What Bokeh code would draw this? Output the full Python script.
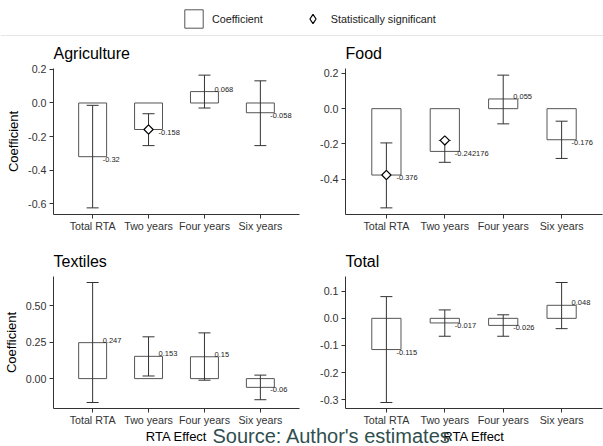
import numpy as np
from bokeh.plotting import figure
from bokeh.models import (ColumnDataSource, FactorRange, Range1d, FixedTicker, Whisker,
                          TeeHead, Legend, LegendItem, Span, Label)
from bokeh.layouts import column, row
from bokeh.embed import file_html
from bokeh.resources import INLINE
from bokeh.core.properties import value

FONT = "Liberation Sans"

# ---------------- data ----------------
categories = ["Total RTA", "Two years", "Four years", "Six years"]

agri_coef = [-0.32, -0.158, 0.068, -0.058]
agri_lower = [-0.625, -0.254, -0.030, -0.254]
agri_upper = [-0.014, -0.064, 0.166, 0.132]
agri_sig_cats = ["Two years"]
agri_sig_y = [-0.158]

food_coef = [-0.376, -0.242176, 0.055, -0.176]
food_lower = [-0.562, -0.304, -0.086, -0.282]
food_upper = [-0.194, -0.180, 0.190, -0.071]
food_sig_cats = ["Total RTA", "Two years"]
food_sig_y = [-0.376, -0.180]

tex_coef = [0.247, 0.153, 0.15, -0.06]
tex_lower = [-0.164, 0.018, -0.011, -0.145]
tex_upper = [0.660, 0.287, 0.314, 0.024]
tex_sig_cats = []
tex_sig_y = []

total_coef = [-0.115, -0.017, -0.026, 0.048]
total_lower = [-0.310, -0.066, -0.066, -0.038]
total_upper = [0.080, 0.031, 0.013, 0.132]
total_sig_cats = []
total_sig_y = []

agri_ticks = [-0.6, -0.4, -0.2, 0.0, 0.2]
agri_tick_labels = ["-0.6", "-0.4", "-0.2", "0.0", "0.2"]
food_ticks = [-0.4, -0.2, 0.0, 0.2]
food_tick_labels = ["-0.4", "-0.2", "0.0", "0.2"]
tex_ticks = [0.0, 0.25, 0.5]
tex_tick_labels = ["0.00", "0.25", "0.50"]
total_ticks = [-0.3, -0.2, -0.1, 0.0, 0.1]
total_tick_labels = ["-0.3", "-0.2", "-0.1", "0.0", "0.1"]

legend_labels = ["Coefficient", "Statistically significant"]
source_note = "Source: Author's estimates"

LINE = "#333333"
BAR_LINE = "#555555"


def make_panel(title, coef, lower, upper, sig_cats, sig_y, ticks, tick_labels,
               ylabel, xlabel, width, height, b_left, b_top, b_bottom):
    lo = min(min(lower), 0.0)
    hi = max(max(upper), 0.0)
    pad = (hi - lo) * 0.05
    p = figure(width=width, height=height,
               x_range=FactorRange(factors=categories, range_padding=0.2,
                                   range_padding_units="absolute"),
               y_range=Range1d(lo - pad, hi + pad),
               output_backend="svg", toolbar_location=None,
               min_border_left=b_left, min_border_right=1,
               min_border_top=b_top, min_border_bottom=b_bottom)
    p.title.text = title
    p.title.text_font = FONT
    p.title.text_font_size = "16px"
    p.title.text_font_style = "normal"
    p.title.text_color = "black"
    p.title.align = "left"
    p.title.offset = 0
    p.title.standoff = 13

    src = ColumnDataSource(data=dict(
        cat=categories, coef=coef, lower=lower, upper=upper,
        label=[str(v) for v in coef],
        vbase=["top" if v < 0 else "bottom" for v in coef]))

    p.vbar(x="cat", top="coef", bottom=0, width=0.5, source=src,
           fill_color="white", line_color=BAR_LINE, line_width=1)
    w = Whisker(source=src, base="cat", upper="upper", lower="lower",
                line_color=LINE, line_width=1, level="annotation",
                upper_head=TeeHead(size=12, line_color=LINE, line_width=1),
                lower_head=TeeHead(size=12, line_color=LINE, line_width=1))
    p.add_layout(w)
    if len(sig_cats):
        p.scatter(x=sig_cats, y=sig_y, marker="square", angle=np.pi / 4, size=6.5,
                  fill_color="white", line_color="black", line_width=1.2,
                  level="overlay")
    p.text(x="cat", y="coef", text="label", source=src, x_offset=10,
           text_baseline="vbase", text_align="left",
           text_font=value(FONT), text_font_size="7.5px", text_color="#222222",
           level="overlay")

    p.yaxis.ticker = FixedTicker(ticks=ticks)
    p.yaxis.major_label_overrides = dict(zip(ticks, tick_labels))
    p.yaxis.axis_label = ylabel
    p.xaxis.axis_label = xlabel
    for ax in p.axis:
        ax.axis_line_color = LINE
        ax.major_tick_line_color = LINE
        ax.major_tick_out = 4
        ax.major_tick_in = 0
        ax.minor_tick_line_color = None
        ax.major_label_text_font = FONT
        ax.major_label_text_font_size = "10.7px"
        ax.major_label_text_color = LINE
        ax.major_label_standoff = 3
        ax.axis_label_text_font = FONT
        ax.axis_label_text_font_size = "13px"
        ax.axis_label_text_font_style = "normal"
        ax.axis_label_text_color = "black"
        ax.axis_label_standoff = 4
    p.xaxis.major_label_standoff = 1
    p.xaxis.axis_label_standoff = 0
    p.grid.visible = False
    p.outline_line_color = None
    return p


# ---------------- legend strip ----------------
leg = figure(width=603, height=36, x_range=Range1d(0, 1), y_range=Range1d(0, 36),
             output_backend="svg", toolbar_location=None, min_border=0,
             x_axis_location=None, y_axis_location=None)
leg.outline_line_color = None
leg.grid.visible = False
dummy = ColumnDataSource(data=dict(x=[float("nan")], y=[float("nan")]))
r_box = leg.vbar(x="x", top="y", width=0.5, source=dummy,
                 fill_color="white", line_color=BAR_LINE, line_width=1)
r_dia = leg.scatter(x="x", y="y", source=dummy, marker="diamond",
                    fill_color="white", line_color="black", line_width=1.2)
legend = Legend(items=[LegendItem(label=legend_labels[0], renderers=[r_box]),
                       LegendItem(label=legend_labels[1], renderers=[r_dia])],
                orientation="horizontal", location=(182, 6),
                glyph_width=23, glyph_height=23, label_standoff=7, spacing=38,
                padding=0, margin=0, border_line_color=None,
                background_fill_alpha=0,
                label_text_font=FONT, label_text_font_size="10.8px",
                label_text_color="#1a1a1a")
leg.add_layout(legend)
leg.add_layout(Span(location=1, dimension="width", line_color="#e6e6e6", line_width=1))

p_agri = make_panel("Agriculture", agri_coef, agri_lower, agri_upper, agri_sig_cats,
                    agri_sig_y, agri_ticks, agri_tick_labels, "Coefficient", None,
                    300, 200, 53, 32, 22)
p_food = make_panel("Food", food_coef, food_lower, food_upper, food_sig_cats,
                    food_sig_y, food_ticks, food_tick_labels, None, None,
                    303, 200, 45, 32, 22)
p_tex = make_panel("Textiles", tex_coef, tex_lower, tex_upper, tex_sig_cats,
                   tex_sig_y, tex_ticks, tex_tick_labels, "Coefficient", "RTA Effect",
                   300, 210, 53, 40, 33)
p_total = make_panel("Total", total_coef, total_lower, total_upper, total_sig_cats,
                     total_sig_y, total_ticks, total_tick_labels, None, "RTA Effect",
                     303, 210, 45, 40, 33)

# ---------------- source note (transparent strip overlaid on the bottom) ----------------
note = figure(width=603, height=23, x_range=Range1d(0, 1), y_range=Range1d(0, 1),
              output_backend="svg", toolbar_location=None, min_border=0,
              x_axis_location=None, y_axis_location=None, margin=(-23, 0, 0, 0))
note.outline_line_color = None
note.grid.visible = False
note.background_fill_alpha = 0
note.border_fill_alpha = 0
note.add_layout(Label(x=212, y=22, x_units="screen", y_units="screen",
                      text=source_note, text_font=FONT, text_font_size="20px",
                      text_color="#2f4f4f", text_baseline="top"))

layout = column(leg, row(p_agri, p_food), row(p_tex, p_total), note)

open("out.html", "w").write(file_html(layout, INLINE))
